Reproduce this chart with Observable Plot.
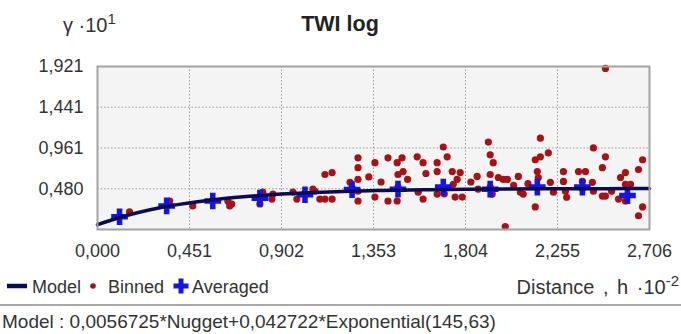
<!DOCTYPE html>
<html><head><meta charset="utf-8">
<script src="https://cdn.jsdelivr.net/npm/d3@7"></script>
<script src="https://cdn.jsdelivr.net/npm/@observablehq/plot@0.6"></script>
<style>
body{margin:0;background:#fff;font-family:"Liberation Sans",Arial,sans-serif;color:#333}
#wrap{position:relative;width:681px;height:334px;overflow:hidden;background:#fff}
.abs{position:absolute;white-space:nowrap;line-height:1}
sup{font-size:0.75em;vertical-align:0.55em;line-height:0}
</style></head><body><div id="wrap"></div>
<script>
// ---- data ----
const xTicks = [0, 0.451, 0.902, 1.353, 1.804, 2.255, 2.706];
const yTicks = [0.480, 0.961, 1.441, 1.921];

const binnedH = [
  0.157,0.354,0.467,0.639,0.648,0.658,0.796,0.810,0.855,0.860,
  0.958,0.977,1.056,1.066,1.090,1.115,1.150,1.115,1.150,1.238,
  1.277,1.277,1.277,1.277,1.277,1.360,1.360,1.424,1.424,1.469,
  1.493,1.473,1.498,1.469,1.567,1.596,1.572,1.596,1.665,1.665,
  1.695,1.714,1.665,1.739,1.763,1.744,1.778,1.753,1.788,1.861,
  1.866,1.916,1.925,1.940,1.925,1.935,1.965,1.989,1.999,2.009,
  2.063,2.073,2.087,2.146,2.156,2.146,2.171,2.161,2.171,2.210,
  2.220,2.235,2.284,2.284,2.294,2.358,2.392,2.377,2.426,2.431,
  2.431,2.490,2.475,2.475,2.490,2.490,2.564,2.588,2.588,2.554,
  2.588,2.613,2.652,2.672,2.672,2.652,1.248,1.473,1.925,2.377,
  1.390,1.520,1.610,1.830,2.040,2.300,2.520,1.330,1.700,2.110
];
const binnedG = [
  0.208,0.336,0.278,0.336,0.278,0.300,0.301,0.440,0.359,0.417,
  0.440,0.359,0.475,0.451,0.359,0.648,0.671,0.359,0.359,0.556,
  0.845,0.729,0.590,0.451,0.336,0.787,0.382,0.845,0.336,0.787,
  0.845,0.648,0.683,0.336,0.856,0.787,0.440,0.359,0.787,0.683,
  0.972,0.856,0.417,0.683,0.590,0.532,0.671,0.382,0.382,0.625,
  0.475,1.030,0.880,0.787,0.648,0.417,0.613,0.590,0.035,0.590,
  0.625,0.440,0.417,0.266,0.683,0.822,0.856,0.613,1.076,0.903,
  0.556,0.440,0.683,0.567,0.451,0.683,0.683,0.567,0.556,0.451,
  0.961,0.856,0.729,0.394,0.394,1.898,0.613,0.671,0.532,0.359,
  0.336,0.532,0.706,0.822,0.266,0.162,0.490,0.500,0.500,0.480,
  0.560,0.590,0.660,0.560,0.520,0.380,0.450,0.620,0.420,0.540
];

const avgH = [0.108,0.339,0.565,0.796,1.017,1.248,1.473,1.695,1.925,2.156,2.377,2.598];
const avgG = [0.150,0.278,0.336,0.370,0.410,0.470,0.475,0.500,0.475,0.500,0.500,0.400];

const modelH = [0,0.1,0.2,0.3,0.4,0.5,0.6,0.7,0.8,0.9,1.0,1.2,1.4,1.6,1.8,2.0,2.2,2.4,2.6,2.706];
const modelG = [0.057,0.136,0.201,0.254,0.296,0.331,0.360,0.383,0.402,0.417,0.429,0.448,0.460,0.468,0.473,0.477,0.479,0.481,0.482,0.482];

const titleText = "TWI log";
const captionText = "Model : 0,0056725*Nugget+0,042722*Exponential(145,63)";

// ---- build ----
const binned = binnedH.map((h, i) => ({h, g: binnedG[i]}));
const averaged = avgH.map((h, i) => ({h, g: avgG[i]}));
const model = modelH.map((h, i) => ({h, g: modelG[i]}));
const fmt = d => d3.format(".3f")(d).replace(".", ",");

const wrap = document.getElementById("wrap");

const plot = Plot.plot({
  width: 681, height: 230,
  marginTop: 26, marginBottom: 41, marginLeft: 97, marginRight: 32,
  style: {fontFamily: '"Liberation Sans", Arial, sans-serif', fontSize: "18px", color: "#333", background: "transparent", overflow: "visible"},
  x: {domain: [0, 2.706], label: null},
  y: {domain: [0, 1.921], label: null},
  marks: [
    Plot.frame({fill: "#f4f4f4"}),
    Plot.ruleX(xTicks.slice(1, -1), {stroke: "#9a9a9a", strokeDasharray: "1.5,2", strokeWidth: 1}),
    Plot.ruleY(yTicks.slice(0, -1), {stroke: "#9a9a9a", strokeDasharray: "1.5,2", strokeWidth: 1}),
    Plot.dot(binned, {x: "h", y: "g", r: 3.6, fill: "#a81216", stroke: "none"}),
    Plot.dot(averaged, {x: "h", y: "g", symbol: "cross", r: 7, fill: "#1414e6", stroke: "none"}),
    Plot.line(model, {x: "h", y: "g", curve: "monotone-x", stroke: "#0b0b55", strokeWidth: 3.5}),
    Plot.frame({stroke: "#a3a3a3", strokeWidth: 2}),
    Plot.axisX({ticks: xTicks, tickSize: 0, tickPadding: 15, tickFormat: fmt, fill: "#333", label: null}),
    Plot.axisY({ticks: yTicks, tickSize: 0, tickPadding: 14, tickFormat: fmt, fill: "#333", label: null})
  ]
});
plot.style.position = "absolute";
plot.style.left = "0px";
plot.style.top = "40px";
wrap.appendChild(plot);

function addText(html, css) {
  const d = document.createElement("div");
  d.className = "abs";
  d.innerHTML = html;
  Object.assign(d.style, css);
  wrap.appendChild(d);
  return d;
}
// header
addText("&gamma; &middot;10<sup>1</sup>", {left: "63px", top: "15px", fontSize: "20px"});
addText(titleText, {left: "0px", width: "680px", textAlign: "center", top: "14px", fontSize: "21.5px", fontWeight: "bold", color: "#222"});

// legend
const ly = 278;
addText('<svg width="22" height="20"><line x1="1" y1="10" x2="21" y2="10" stroke="#0b0b55" stroke-width="4.5"/></svg>', {left: "6px", top: (ly - 2) + "px"});
addText("Model", {left: "32px", top: ly + "px", fontSize: "18px"});
addText('<svg width="10" height="20"><circle cx="5" cy="10" r="2.8" fill="#a81216"/></svg>', {left: "88px", top: (ly - 2) + "px"});
addText("Binned", {left: "108px", top: ly + "px", fontSize: "18px"});
addText('<svg width="18" height="20"><path d="M6.5 2.5h5v5h5v5h-5v5h-5v-5h-5v-5h5z" fill="#1414e6"/></svg>', {left: "172px", top: (ly - 2) + "px"});
addText("Averaged", {left: "192px", top: ly + "px", fontSize: "18px"});
addText("Distance , h &middot;10<sup>-2</sup>", {right: "2px", top: (ly - 1) + "px", fontSize: "20px", wordSpacing: "3px"});

// separator
const sep = document.createElement("div");
Object.assign(sep.style, {position: "absolute", left: "0px", top: "304px", width: "681px", height: "0px", borderTop: "2px solid #a8a8a8", borderBottom: "1px solid #fff"});
wrap.appendChild(sep);

// caption
addText(captionText, {left: "2px", top: "312px", fontSize: "19px", color: "#333"});
</script></body></html>
